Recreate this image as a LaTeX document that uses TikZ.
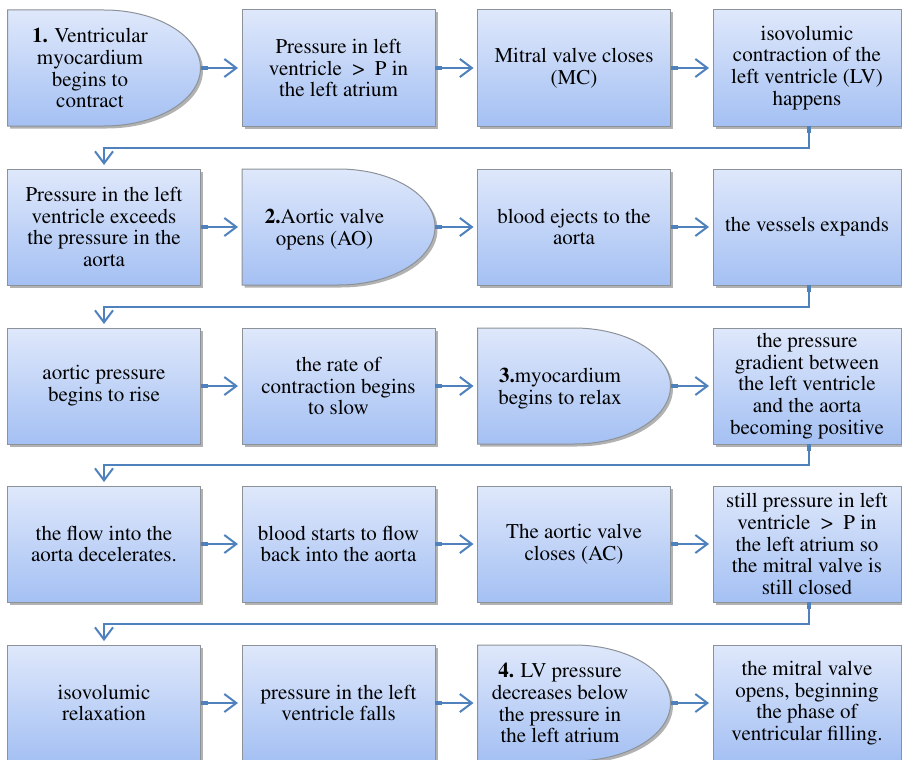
\documentclass[tikz,border=0pt]{standalone}
\usepackage[T1]{fontenc}
\usepackage{mathptmx}
\usetikzlibrary{arrows.meta,shadows}

\definecolor{flowblue}{RGB}{79,129,189}
\definecolor{boxedge}{RGB}{140,146,152}
\definecolor{boxtop}{RGB}{223,232,251}
\definecolor{boxbottom}{RGB}{164,192,243}

\newcommand\boxfont{\fontsize{21}{21.7}\selectfont}

\tikzset{
  boxfill/.style={draw=boxedge, line width=1pt, top color=boxtop, bottom color=boxbottom,
    drop shadow={shadow xshift=2.5pt, shadow yshift=-2.5pt, fill=black, opacity=0.3}},
  stepbox/.style={boxfill, rectangle, minimum width=193pt, minimum height=116pt,
    inner sep=0pt, outer sep=0pt, align=center, font=\boxfont},
  lastbox/.style={stepbox, minimum width=188pt},
  dlabel/.style={rectangle, minimum width=193pt, minimum height=116pt,
    inner sep=0pt, outer sep=0pt, font=\boxfont},
  flow/.style={draw=flowblue, line width=2pt,
    arrows={Rectangle[length=7pt,width=4.5pt]-Straight Barb[length=12pt,width=18pt,line width=2pt]},
    shorten >=4pt},
}

% half-rectangle, half-ellipse step box ("delay" shape): name, centre x, centre y, lines
\newcommand\dbox[4]{%
  \path[boxfill] (#2-96.5,#3-58) -- (#2,#3-58)
    .. controls (#2+53.3,#3-58) and (#2+96.5,#3-32) .. (#2+96.5,#3)
    .. controls (#2+96.5,#3+32) and (#2+53.3,#3+58) .. (#2,#3+58)
    -- (#2-96.5,#3+58) -- cycle;
  \node[dlabel] (#1) at (#2,#3)
    {\raisebox{-3pt}[\height][\depth]{\begin{tabular}{@{}c@{}}#4\end{tabular}}\hspace*{28pt}};
}

\begin{document}
\begin{tikzpicture}[x=1pt,y=-1pt]
\useasboundingbox (0,0) rectangle (902,760);

% row 1
\dbox{a1}{104}{68}{\textbf{1.} Ventricular\\ myocardium\\ begins to\\ contract}
\node[stepbox] (a2) at (338.5,68) {Pressure in left\\ ventricle\enspace>\enspace P in\\ the left atrium};
\node[stepbox] (a3) at (574,68) {Mitral valve closes\\ (MC)};
\node[lastbox] (a4) at (807,68) {isovolumic\\ contraction of the\\ left ventricle (LV)\\ happens};

% row 2
\node[stepbox] (b1) at (104,227) {Pressure in the left\\ ventricle exceeds\\ the pressure in the\\ aorta};
\dbox{b2}{338.5}{227}{\textbf{2.}Aortic valve\\ opens (AO)}
\node[stepbox] (b3) at (574,227) {blood ejects to the\\ aorta};
\node[lastbox] (b4) at (807,227) {the vessels expands};

% row 3
\node[stepbox] (c1) at (104,386) {aortic pressure\\ begins to rise};
\node[stepbox] (c2) at (338.5,386) {the rate of\\ contraction begins\\ to slow};
\dbox{c3}{574}{386}{\textbf{3.}myocardium\\ begins to relax}
\node[lastbox] (c4) at (807,386) {the pressure\\ gradient between\\ the left ventricle\\ and the aorta\\ becoming positive};

% row 4
\node[stepbox] (d1) at (104,544) {the flow into the\\ aorta decelerates.};
\node[stepbox] (d2) at (338.5,544) {blood starts to flow\\ back into the aorta};
\node[stepbox] (d3) at (574,544) {The aortic valve\\ closes (AC)};
\node[lastbox] (d4) at (807,544) {still pressure in left\\ ventricle\enspace>\enspace P in\\ the left atrium so\\ the mitral valve is\\ still closed};

% row 5
\node[stepbox] (e1) at (104,703) {isovolumic\\ relaxation};
\node[stepbox] (e2) at (338.5,703) {pressure in the left\\ ventricle falls};
\dbox{e3}{574}{703}{\textbf{4.} LV pressure\\ decreases below\\ the pressure in\\ the left atrium}
\node[lastbox] (e4) at (807,703) {the mitral valve\\ opens, beginning\\ the phase of\\ ventricular filling.};

% arrows along each row
\foreach \r in {a,b,c,d,e}{
  \draw[flow] (\r1.east) -- (\r2.west);
  \draw[flow] (\r2.east) -- (\r3.west);
  \draw[flow] (\r3.east) -- (\r4.west);
}

% returns from the end of one row to the start of the next
\draw[flow] ([xshift=2pt]a4.south) -- ++(0,21.5) -| (b1.north);
\draw[flow] ([xshift=2pt]b4.south) -- ++(0,21.5) -| (c1.north);
\draw[flow] ([xshift=2pt]c4.south) -- ++(0,21) -| (d1.north);
\draw[flow] ([xshift=2pt]d4.south) -- ++(0,21.5) -| (e1.north);
\end{tikzpicture}
\end{document}
